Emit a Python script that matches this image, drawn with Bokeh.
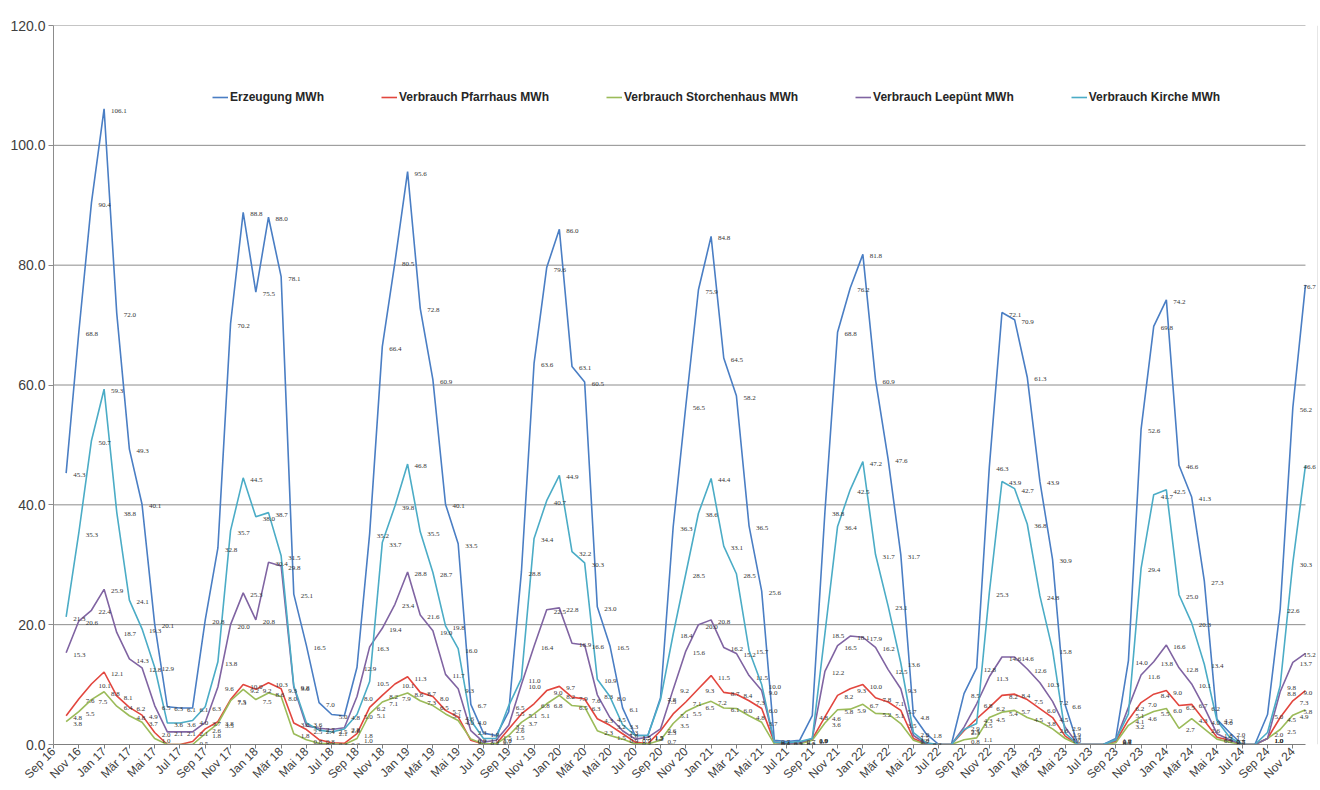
import math
import numpy as np
from bokeh.plotting import figure
from bokeh.models import ColumnDataSource, LabelSet, FixedTicker, Legend, LegendItem, Range1d, Span
from bokeh.embed import file_html
from bokeh.resources import INLINE
from bokeh.core.properties import value

# ---- categories (Sep 16 .. Dez 24), index 0 = Sep 16 (no data) ----
tick_labels = ["Sep 16", "Nov 16", "Jan 17", "Mär 17", "Mai 17", "Jul 17",
               "Sep 17", "Nov 17", "Jan 18", "Mär 18", "Mai 18", "Jul 18",
               "Sep 18", "Nov 18", "Jan 19", "Mär 19", "Mai 19", "Jul 19",
               "Sep 19", "Nov 19", "Jan 20", "Mär 20", "Mai 20", "Jul 20",
               "Sep 20", "Nov 20", "Jan 21", "Mär 21", "Mai 21", "Jul 21",
               "Sep 21", "Nov 21", "Jan 22", "Mär 22", "Mai 22", "Jul 22",
               "Sep 22", "Nov 22", "Jan 23", "Mär 23", "Mai 23", "Jul 23",
               "Sep 23", "Nov 23", "Jan 24", "Mär 24", "Mai 24", "Jul 24",
               "Sep 24", "Nov 24"]

erzeugung = [None,
    45.3, 68.8, 90.4, 106.1, 72.0, 49.3, 40.1, 20.1, 6.3, 6.1,
    6.1, 20.8, 32.8, 70.2, 88.8, 75.5, 88.0, 78.1, 25.1, 16.5,
    7.0, 5.0, 4.8, 12.9, 35.2, 66.4, 80.5, 95.6, 72.8, 60.9,
    40.1, 33.5, 6.7, 1.9, 1.5, 5.5, 28.8, 63.6, 79.6, 86.0,
    63.1, 60.5, 23.0, 16.5, 6.1, 1.5, 1.5, 7.8, 36.3, 56.5,
    75.9, 84.8, 64.5, 58.2, 36.5, 25.6, 0.7, 0.5, 0.7, 4.8,
    38.8, 68.8, 76.2, 81.8, 60.9, 47.6, 31.7, 4.8, 1.8, 0.0,
    0.0, 8.5, 12.8, 46.3, 72.1, 70.9, 61.3, 43.9, 30.9, 6.6,
    0.0, 0.0, 0.0, 1.0, 14.0, 52.6, 69.8, 74.2, 46.6, 41.3,
    27.3, 4.2, 2.0, 0.0, 0.0, 5.0, 22.6, 56.2, 76.7]

pfarrhaus = [None,
    4.8, 7.6, 10.1, 12.1, 8.1, 6.2, 4.9, 2.0, 0.0, 0.0,
    0.5, 2.6, 3.8, 7.5, 10.0, 9.2, 10.3, 9.3, 3.6, 2.5,
    0.8, 0.3, 0.2, 1.8, 6.2, 8.2, 10.1, 11.3, 8.7, 8.0,
    5.7, 4.6, 0.7, 0.1, 0.1, 2.6, 5.1, 6.8, 9.0, 9.7,
    7.9, 7.6, 4.3, 3.2, 1.8, 0.4, 0.1, 2.3, 5.1, 7.1,
    9.3, 11.5, 8.7, 8.4, 7.3, 6.0, 0.4, 0.1, 0.2, 0.9,
    4.6, 8.2, 9.3, 10.0, 7.8, 7.1, 5.7, 1.0, 0.1, 0.0,
    0.0, 2.3, 4.3, 6.2, 8.2, 8.4, 7.5, 6.0, 4.5, 1.4,
    0.0, 0.0, 0.0, 0.5, 4.1, 7.0, 8.4, 9.0, 6.5, 6.7,
    4.0, 1.2, 0.7, 0.0, 0.0, 1.0, 4.5, 7.3, 9.0]

storchenhaus = [None,
    3.8, 5.5, 7.5, 8.8, 6.4, 4.8, 3.7, 1.0, 0.0, 0.0,
    0.0, 1.8, 3.5, 7.3, 9.2, 7.5, 8.6, 8.0, 1.8, 0.8,
    0.2, 0.1, 0.0, 1.0, 5.1, 7.1, 7.9, 8.6, 7.3, 6.5,
    5.1, 4.0, 0.9, 0.1, 0.1, 1.5, 3.7, 5.1, 6.8, 8.2,
    6.5, 6.3, 2.3, 1.5, 0.9, 0.1, 0.1, 0.7, 3.5, 5.5,
    6.5, 7.2, 6.1, 6.0, 4.8, 3.7, 0.1, 0.0, 0.1, 0.7,
    3.6, 5.8, 5.9, 6.7, 5.2, 5.1, 3.5, 0.7, 0.0, 0.0,
    0.0, 0.8, 1.1, 4.5, 5.4, 5.7, 4.5, 3.8, 2.6, 1.0,
    0.0, 0.0, 0.0, 0.3, 3.2, 4.6, 5.5, 6.0, 2.7, 4.3,
    2.6, 0.9, 0.4, 0.0, 0.0, 1.0, 2.5, 4.9, 5.8]

leepuent = [None,
    15.3, 20.6, 22.4, 25.9, 18.7, 14.3, 12.8, 6.5, 2.1, 2.1,
    2.1, 3.7, 9.6, 20.0, 25.3, 20.8, 30.4, 29.8, 9.6, 3.1,
    2.7, 2.5, 2.8, 8.0, 16.3, 19.4, 23.4, 28.8, 21.6, 19.0,
    11.7, 9.3, 2.3, 0.4, 0.7, 3.2, 10.0, 16.4, 22.5, 22.8,
    16.9, 16.6, 8.3, 4.5, 2.3, 0.9, 1.2, 2.6, 9.2, 15.6,
    20.0, 20.8, 16.2, 15.2, 11.5, 9.0, 0.4, 0.2, 0.3, 1.0,
    12.2, 16.5, 18.1, 17.9, 16.2, 12.5, 9.3, 1.5, 0.1, 0.0,
    0.0, 2.9, 6.8, 11.3, 14.6, 14.6, 12.6, 10.3, 7.2, 2.9,
    0.0, 0.0, 0.0, 0.7, 6.2, 11.6, 13.8, 16.6, 12.8, 10.1,
    6.2, 1.8, 0.8, 0.0, 0.0, 1.0, 8.8, 13.7, 15.2]

kirche = [None,
    21.3, 35.3, 50.7, 59.3, 38.8, 24.1, 19.3, 12.9, 3.6, 3.6,
    4.0, 6.3, 13.8, 35.7, 44.5, 38.0, 38.7, 31.5, 9.8, 3.6,
    2.4, 2.1, 2.6, 5.0, 10.5, 33.7, 39.8, 46.8, 35.5, 28.7,
    19.8, 16.0, 4.0, 1.0, 1.0, 6.5, 11.0, 34.4, 40.7, 44.9,
    32.2, 30.3, 10.9, 8.0, 3.3, 1.5, 1.5, 7.5, 18.4, 28.5,
    38.6, 44.4, 33.1, 28.5, 15.7, 10.0, 0.4, 0.3, 0.5, 1.0,
    18.5, 36.4, 42.5, 47.2, 31.7, 23.1, 13.6, 2.0, 0.3, 0.0,
    0.0, 2.5, 3.5, 25.3, 43.9, 42.7, 36.8, 24.8, 15.8, 1.9,
    0.0, 0.0, 0.0, 0.8, 5.1, 29.4, 41.7, 42.5, 25.0, 20.3,
    13.4, 4.0, 1.2, 0.0, 0.0, 2.0, 9.8, 30.3, 46.6]

series = [
    ("Erzeugung MWh", erzeugung, "#4A7EC4"),
    ("Verbrauch Pfarrhaus MWh", pfarrhaus, "#E2463E"),
    ("Verbrauch Storchenhaus MWh", storchenhaus, "#9BBB59"),
    ("Verbrauch Leepünt MWh", leepuent, "#8064A2"),
    ("Verbrauch Kirche MWh", kirche, "#4BACC6"),
]
y_ticks = [0, 20, 40, 60, 80, 100, 120]

n = len(erzeugung)
xs = list(range(n))
x_end = 100.03   # frame runs a little past the last month so edge labels stay visible

p = figure(width=1318, height=789, x_range=Range1d(0, x_end), y_range=Range1d(0, 120),
           output_backend="svg", toolbar_location=None,
           min_border_left=53, min_border_right=0, min_border_top=25, min_border_bottom=45)
p.outline_line_color = None
p.background_fill_color = "white"
p.xgrid.visible = False
p.ygrid.visible = False

# horizontal gridlines only over the category span
grid_y = [t for t in y_ticks if t > 0]
p.multi_line(xs=[[0, n - 1] for _ in grid_y], ys=[[t, t] for t in grid_y],
             line_color="#8C8C8C", line_width=1)
# outer chart border on the right
p.add_layout(Span(location=x_end - 0.03, dimension="height", line_color="#BFBFBF", line_width=1))

p.yaxis.ticker = FixedTicker(ticks=y_ticks)
p.yaxis.major_label_overrides = {t: f"{t:.1f}" for t in y_ticks}
p.yaxis.axis_line_color = "#8C8C8C"
p.yaxis.major_tick_line_color = "#8C8C8C"
p.yaxis.major_tick_out = 5
p.yaxis.major_tick_in = 0
p.yaxis.minor_tick_out = 0
p.yaxis.minor_tick_in = 0
p.yaxis.major_label_standoff = 3
p.yaxis.major_label_text_font = "Liberation Sans"
p.yaxis.major_label_text_font_size = "14px"
p.yaxis.major_label_text_color = "#404040"

xt = list(range(0, n - 1, 2))
p.xaxis.ticker = FixedTicker(ticks=xt)
p.xaxis.bounds = (0, n - 1)
p.xaxis.major_label_overrides = {t: lab for t, lab in zip(xt, tick_labels)}
p.xaxis.major_label_orientation = math.pi / 4
p.xaxis.axis_line_color = "#7F7F7F"
p.xaxis.major_tick_line_color = "#7F7F7F"
p.xaxis.major_tick_out = 4
p.xaxis.major_tick_in = 0
p.xaxis.minor_tick_out = 0
p.xaxis.minor_tick_in = 0
p.xaxis.major_label_standoff = 1
p.xaxis.major_label_text_font = "Liberation Sans"
p.xaxis.major_label_text_font_size = "12px"
p.xaxis.major_label_text_color = "#404040"

items = []
for name, vals, col in series:
    yv = [np.nan if v is None else v for v in vals]
    r = p.line(xs, yv, line_color=col, line_width=1.6)
    items.append(LegendItem(label=name, renderers=[r]))
    idx = [i for i, v in enumerate(vals) if v is not None and i < n - 1]
    src = ColumnDataSource(dict(x=idx, y=[vals[i] for i in idx],
                                t=[f"{vals[i]:.1f}" for i in idx]))
    p.add_layout(LabelSet(x="x", y="y", text="t", source=src, x_offset=7, y_offset=-2,
                          text_font=value("Liberation Serif"), text_font_size="7px",
                          text_color="#333333", text_baseline="middle", text_align="left"))
    last = ColumnDataSource(dict(x=[n - 1], y=[vals[n - 1]], t=[f"{vals[n - 1]:.1f}"]))
    p.add_layout(LabelSet(x="x", y="y", text="t", source=last, x_offset=-2, y_offset=-2,
                          text_font=value("Liberation Serif"), text_font_size="7px",
                          text_color="#333333", text_baseline="middle", text_align="left"))

legend = Legend(items=items, orientation="horizontal", location=(159, 639),
                spacing=57, glyph_width=16, glyph_height=16, label_standoff=2,
                padding=0, margin=0, background_fill_alpha=0, border_line_color=None,
                label_text_font="Liberation Sans", label_text_font_size="12px",
                label_text_font_style="bold", label_text_color="#262626",
                label_height=16)
p.add_layout(legend)

open("out.html", "w").write(file_html(p, INLINE))
